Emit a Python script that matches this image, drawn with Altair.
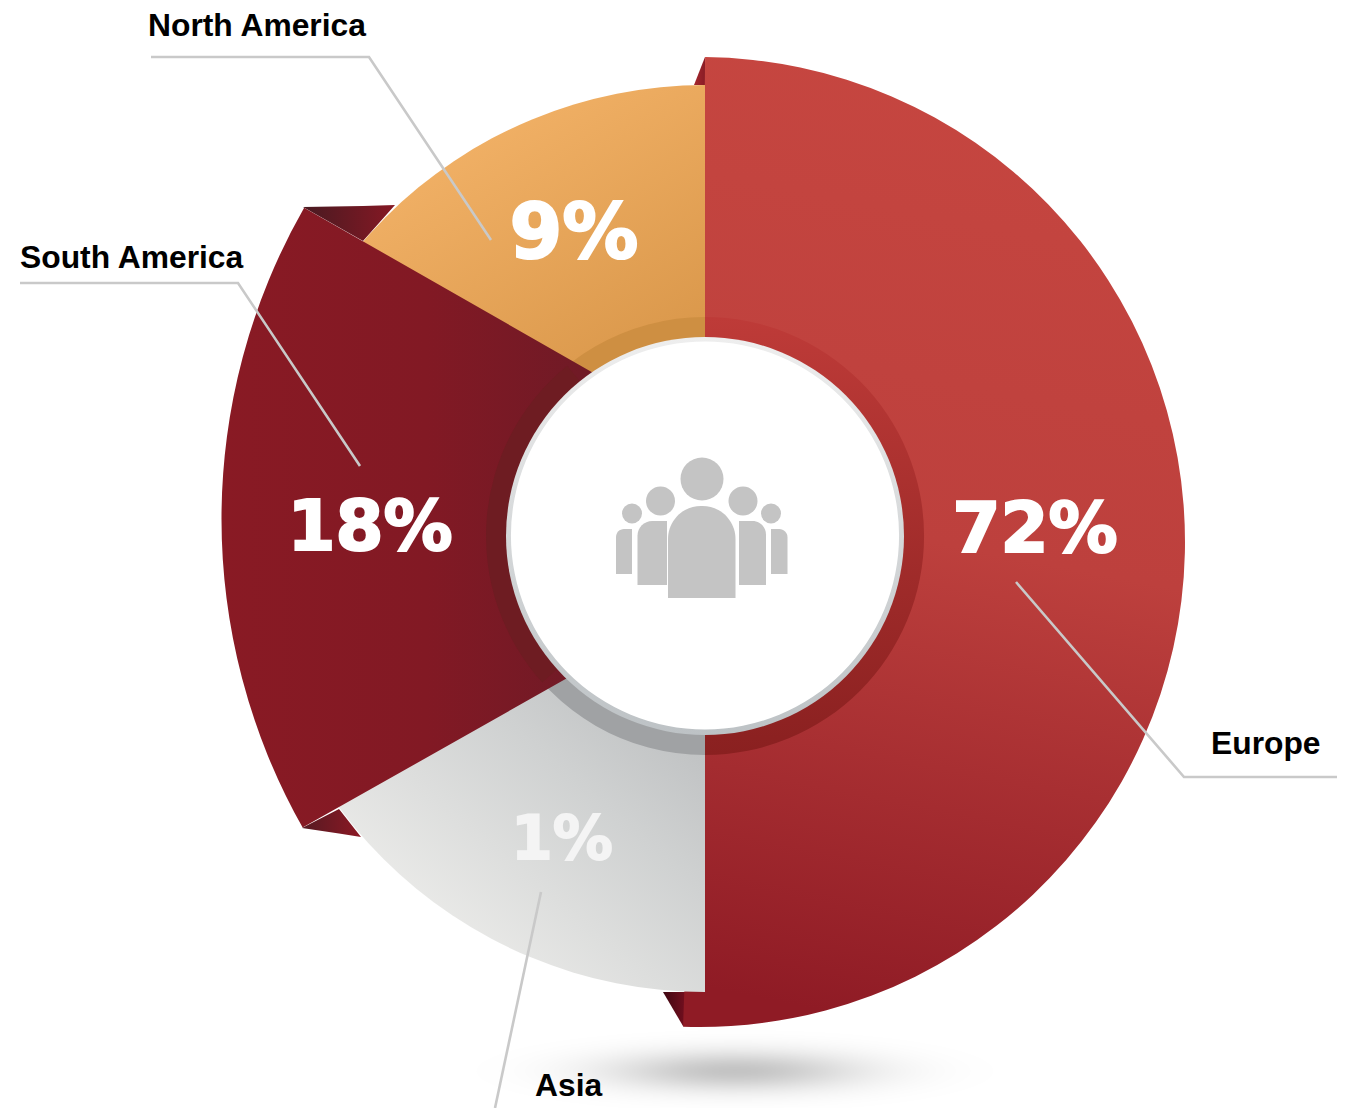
import math
import altair as alt
import pandas as pd

# ---- chart values ----
regions = ["Europe", "South America", "North America", "Asia"]
shares = [72, 18, 9, 1]
share_labels = ["72%", "18%", "9%", "1%"]

# ---- layout (page pixel space of the picture) ----
OFF = 8
RIGHT, BOTTOM = 1337, 1108
xs = alt.Scale(domain=[OFF, RIGHT], nice=False, zero=False)
ys = alt.Scale(domain=[BOTTOM, OFF], nice=False, zero=False)


def grad(stops, x1=0, y1=0, x2=1, y2=0):
    return alt.Gradient(
        gradient="linear",
        stops=[alt.GradientStop(offset=o, color=c) for o, c in stops],
        x1=x1, y1=y1, x2=x2, y2=y2,
    )


def X(f="x"):
    return alt.X(f"{f}:Q", scale=xs, axis=None)


def Y(f="y"):
    return alt.Y(f"{f}:Q", scale=ys, axis=None)


def wedge(cx, cy, r, r0, a0, a1, fill, **kw):
    df = pd.DataFrame([{"x": cx, "y": cy, "r": r, "r0": r0,
                        "t0": math.radians(a0), "t1": math.radians(a1)}])
    return alt.Chart(df).mark_arc(fill=fill, **kw).encode(
        x=X(), y=Y(),
        radius=alt.Radius("r:Q", scale=None),
        radius2=alt.Radius2("r0:Q"),
        theta=alt.Theta("t0:Q", scale=None, stack=None),
        theta2=alt.Theta2("t1:Q"),
    )


def disc(cx, cy, r, fill):
    return wedge(cx, cy, r, 0, 0, 360, fill)


def tri(points, fill):
    df = pd.DataFrame(points, columns=["x", "y", "y2"])
    return alt.Chart(df).mark_area(fill=fill, orient="vertical", line=False).encode(
        x=X(), y=Y(), y2=alt.Y2("y2:Q"))


def box(x0, x1, y0, y1, fill, **kw):
    df = pd.DataFrame([{"x": x0, "x2": x1, "y": y0, "y2": y1}])
    return alt.Chart(df).mark_bar(fill=fill, **kw).encode(
        x=X(), x2=alt.X2("x2:Q"), y=Y(), y2=alt.Y2("y2:Q"))


def polyline(points):
    df = pd.DataFrame([{"x": p[0], "y": p[1], "i": i} for i, p in enumerate(points)])
    return alt.Chart(df).mark_line(color="#C9C9C9", strokeWidth=2.6).encode(
        x=X(), y=Y(), order=alt.Order("i:Q"))


def label(text, x, y, size, font, color, align, heavy=0.0):
    df = pd.DataFrame([{"x": x, "y": y, "t": text}])
    kw = {"stroke": color, "strokeWidth": heavy} if heavy else {}
    return alt.Chart(df).mark_text(
        font=font, fontWeight="bold", fontSize=size, color=color,
        align=align, baseline="alphabetic", **kw).encode(x=X(), y=Y(), text="t:N")


def soft_shadow(cx, cy, spread, steps=60):
    # stacked translucent ellipses give the blurred floor shadow
    ellipse = "M -1 0 A 1 0.16 0 1 1 1 0 A 1 0.16 0 1 1 -1 0 Z"
    rows = [{"x": cx, "y": cy,
             "s": (2 * spread * math.sqrt(math.log(steps / (k + 1)) + 0.002)) ** 2}
            for k in range(steps)]
    return alt.Chart(pd.DataFrame(rows)).mark_point(
        shape=ellipse, filled=True, fill="#000000", fillOpacity=0.0055, strokeWidth=0
    ).encode(x=X(), y=Y(), size=alt.Size("s:Q", scale=None, legend=None))


layers = [
    soft_shadow(735, 1071, 128),
    # folded corners behind the ring
    tri([(663, 992, 992), (683, 992, 1026), (690, 992, 1026)], grad([(0, "#3F0712"), (0.75, "#6E0E1D"), (1, "#6E0E1D")])),
    tri([(694, 85, 85), (705, 57, 85)], grad([(0, "#A5272D"), (1, "#8A1D26")], 0, 0, 1, 0)),
    tri([(303, 207, 207), (363, 206, 241), (395, 205, 205)],
        grad([(0, "#481A21"), (1, "#861824")])),
    tri([(302, 828, 828), (339, 809, 833.6), (361, 837, 837)],
        grad([(0, "#551A22"), (1, "#8C1824")])),
    # main sectors
    wedge(700, 542, 485, 0, 0.6, 182,
          grad([(0, "#C64640"), (0.5, "#BD403D"), (1, "#8F1B25")], 0.55, 0, 0.45, 1)),
    wedge(705, 537, 452, 0, 270, 360,
          grad([(0, "#F8B86E"), (1, "#CF8C3E")], 0.25, 0, 0.85, 1)),
    wedge(705, 537, 455, 0, 180, 270,
          grad([(0, "#A9ABAE"), (0.45, "#CFD1D1"), (0.8, "#EBEBE9"), (1, "#F0F0EE")], 1, 0, 0.15, 1)),
    # inner ring pieces that the South America wedge cuts
    wedge(705, 536, 219, 190, 300, 360, "#CE8F42"),
    wedge(705, 536, 219, 190, 180, 240, "#A0A2A4"),
    wedge(849, 519, 627.5, 200, 240.54, 299.74,
          grad([(0, "#891A24"), (0.45, "#821924"), (0.8, "#701A26"), (1, "#701A26")])),
    wedge(705, 536, 219, 190, 228, 321, "#6E1C22"),
    wedge(705, 536, 219, 190, 0, 180, grad([(0, "#BE3B38"), (1, "#8A2020")], 0, 0, 0, 1)),
    disc(705, 536, 199, grad([(0, "#EEEEEE"), (1, "#BDC2C5")], 0, 0, 0, 1)),
    disc(705, 535.5, 194, "#FFFFFF"),
    # people icon
    disc(702, 479, 21.5, "#C4C4C4"),
    disc(660.5, 501, 14.5, "#C4C4C4"),
    disc(743, 501, 14.5, "#C4C4C4"),
    disc(632, 513.5, 10, "#C4C4C4"),
    disc(771, 513.5, 10, "#C4C4C4"),
    box(668, 735.5, 506, 598, "#C4C4C4", cornerRadiusTopLeft=33, cornerRadiusTopRight=33),
    box(637.5, 667, 521, 585, "#C4C4C4", cornerRadiusTopLeft=25),
    box(739, 766, 521, 585, "#C4C4C4", cornerRadiusTopRight=25),
    box(616, 632, 529, 574, "#C4C4C4", cornerRadiusTopLeft=14),
    box(771, 787.5, 529, 574, "#C4C4C4", cornerRadiusTopRight=14),
    # leader lines
    polyline([(151, 57), (369, 57), (491, 240)]),
    polyline([(20, 283), (238, 283), (360, 466)]),
    polyline([(1337, 777), (1184, 777), (1016, 582)]),
    polyline([(541, 892), (495, 1108)]),
    # share labels
    label(share_labels[0], 1035, 552, 69, "DejaVu Sans", "#FFFFFF", "center", 2.2),
    label(share_labels[1], 370, 550, 69, "DejaVu Sans", "#FFFFFF", "center", 2.2),
    label(share_labels[2], 574, 258, 76, "DejaVu Sans", "#FFFFFF", "center", 2.2),
    label(share_labels[3], 562, 859, 60, "DejaVu Sans", "#F4F4F4", "center", 1.8),
    # region labels
    label(regions[2], 148, 36, 31.8, "Liberation Sans", "#000000", "left"),
    label(regions[1], 20, 268, 31.8, "Liberation Sans", "#000000", "left"),
    label(regions[0], 1211, 754, 31.8, "Liberation Sans", "#000000", "left"),
    label(regions[3], 535, 1096, 31.8, "Liberation Sans", "#000000", "left"),
]

chart = alt.layer(*layers).properties(
    width=RIGHT - OFF, height=BOTTOM - OFF, padding=0, background="#FFFFFF",
    autosize=alt.AutoSizeParams(type="none"),
).configure_view(stroke=None)

chart.save("out.html", embed_options={"renderer": "svg", "actions": False})
